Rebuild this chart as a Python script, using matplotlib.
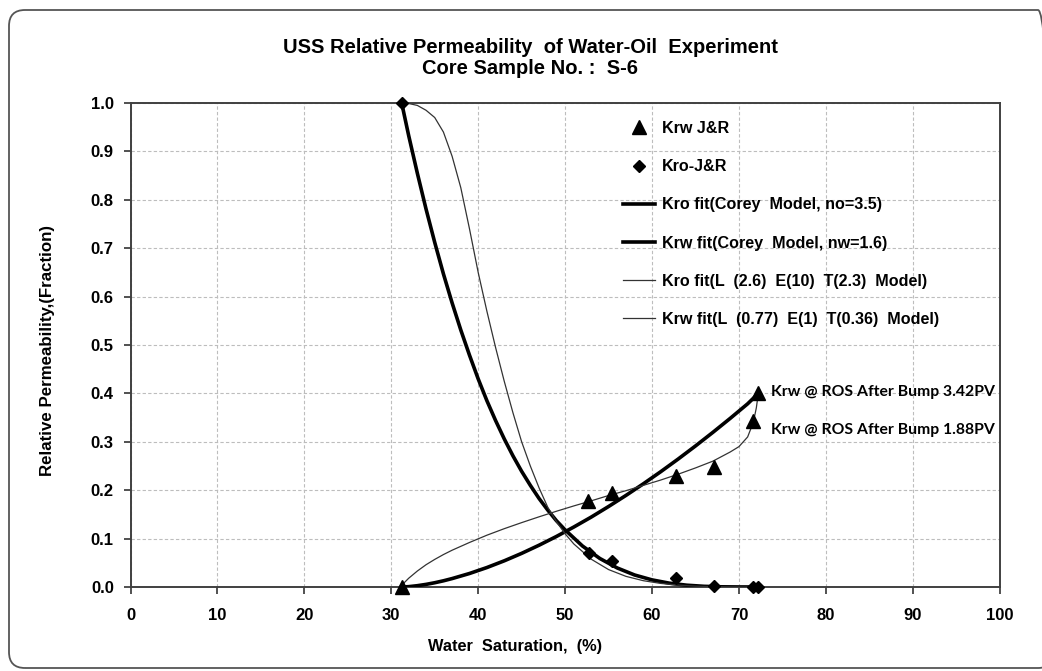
import matplotlib
matplotlib.use("Agg")
import matplotlib.pyplot as plt
from matplotlib.patches import FancyBboxPatch

# ---- data ----
krw_sw = [31.2, 52.6, 55.4, 62.8, 67.1, 71.65, 72.23]
krw_val = [0.0, 0.178, 0.194, 0.229, 0.247, 0.342, 0.401]

kro_sw = [31.2, 52.7, 55.4, 62.8, 67.1, 71.65, 72.23]
kro_val = [1.0, 0.071, 0.054, 0.018, 0.003, 0.0, 0.0]

kro_corey_sw = [31.2, 32, 33, 34, 35, 36, 37, 38, 39, 40, 41, 42, 43, 44, 45, 46, 47, 48,
                49, 50, 52, 54, 56, 58, 60, 62, 64, 66, 68, 70, 72.23]
kro_corey_val = [1.0, 0.933, 0.855, 0.781, 0.712, 0.647, 0.587, 0.531, 0.479, 0.430, 0.385,
                 0.344, 0.306, 0.271, 0.239, 0.210, 0.183, 0.159, 0.137, 0.118, 0.0847,
                 0.0589, 0.0393, 0.0248, 0.0147, 0.0079, 0.0037, 0.0014, 0.0004, 0.0001, 0.0]

krw_corey_sw = [31.2, 32, 33, 34, 35, 36, 37, 39, 41, 43, 45, 47, 49, 51, 53, 55, 57, 59,
                61, 63, 65, 67, 69, 71, 72.23]
krw_corey_val = [0.0, 0.0007, 0.0027, 0.0054, 0.0088, 0.0128, 0.0174, 0.0279, 0.0402, 0.0541,
                 0.0695, 0.0863, 0.1044, 0.1239, 0.1444, 0.1663, 0.1892, 0.2132, 0.2382,
                 0.2643, 0.2914, 0.3195, 0.3485, 0.3785, 0.40]

kro_let_sw = [31.2, 32, 33, 34, 35, 36, 37, 38, 39, 40, 41, 42, 43, 44, 45, 46, 47, 48, 49,
              50, 51, 53, 55, 57, 59, 61, 63, 65, 67, 69, 72.23]
kro_let_val = [1.0, 0.999, 0.995, 0.985, 0.97, 0.94, 0.89, 0.825, 0.74, 0.65, 0.57, 0.495,
               0.425, 0.36, 0.30, 0.25, 0.205, 0.165, 0.135, 0.11, 0.089, 0.0575, 0.036,
               0.022, 0.013, 0.0074, 0.0039, 0.0018, 0.0007, 0.0002, 0.0]

krw_let_sw = [31.2, 31.5, 32, 33, 34, 35, 36, 37, 39, 41, 43, 45, 47, 49, 51, 53, 55, 57,
              59, 61, 63, 65, 67, 69, 70, 71, 71.65, 72.0, 72.23]
krw_let_val = [0.0, 0.009, 0.018, 0.033, 0.046, 0.057, 0.067, 0.076, 0.092, 0.107, 0.1205,
               0.133, 0.145, 0.1565, 0.1675, 0.178, 0.189, 0.199, 0.210, 0.221, 0.233,
               0.246, 0.260, 0.279, 0.290, 0.310, 0.340, 0.370, 0.40]

labels = ["Krw J&R", "Kro-J&R", "Kro fit(Corey  Model, no=3.5)",
          "Krw fit(Corey  Model, nw=1.6)", "Kro fit(L  (2.6)  E(10)  T(2.3)  Model)",
          "Krw fit(L  (0.77)  E(1)  T(0.36)  Model)"]
x_ticks = [0, 10, 20, 30, 40, 50, 60, 70, 80, 90, 100]
y_ticks = [0.0, 0.1, 0.2, 0.3, 0.4, 0.5, 0.6, 0.7, 0.8, 0.9, 1.0]

plt.rcParams['font.family'] = ['Liberation Sans', 'DejaVu Sans']
plt.rcParams['font.weight'] = 'bold'

W, H = 1042, 671
fig = plt.figure(figsize=(W / 100, H / 100), dpi=100)
fig.patch.set_facecolor('white')

border = FancyBboxPatch((0.09, 0.03), 10.45, 6.58,
                        boxstyle="round,pad=0,rounding_size=0.16",
                        transform=fig.dpi_scale_trans, fill=False,
                        edgecolor='#555555', linewidth=1.3, zorder=0)
fig.patches.append(border)

ax = fig.add_axes([130.5 / W, 1 - 587 / H, (999.7 - 130.5) / W, (587 - 103) / H])

ax.plot(krw_corey_sw, krw_corey_val, color='black', lw=2.6, zorder=3, label=labels[3])
ax.plot(kro_corey_sw, kro_corey_val, color='black', lw=2.6, zorder=3, label=labels[2])
ax.plot(kro_let_sw, kro_let_val, color='#333333', lw=0.9, zorder=3, label=labels[4])
ax.plot(krw_let_sw, krw_let_val, color='#333333', lw=0.9, zorder=3, label=labels[5])
ax.plot(krw_sw, krw_val, linestyle='none', marker='^', color='black', markersize=9.5,
        zorder=4, clip_on=False, label=labels[0])
ax.plot(kro_sw, kro_val, linestyle='none', marker='D', color='black', markersize=6.5,
        zorder=4, clip_on=False, label=labels[1])

ax.set_xlim(0, 100)
ax.set_ylim(0, 1.0)
ax.set_xticks(x_ticks)
ax.set_yticks(y_ticks)
ax.set_xticklabels([str(v) for v in x_ticks])
ax.set_yticklabels([f"{v:.1f}" for v in y_ticks])
ax.tick_params(direction='out', length=5, width=1.2, color='#333333',
               labelsize=12, pad=7)
for lab in ax.get_xticklabels() + ax.get_yticklabels():
    lab.set_fontweight('bold')
ax.xaxis.set_tick_params(pad=10)
ax.grid(True, color='#bdbdbd', linestyle=(0, (3, 2)), linewidth=0.8)
ax.set_axisbelow(True)
for s in ax.spines.values():
    s.set_color('#404040')
    s.set_linewidth(1.4)

handles, labs = ax.get_legend_handles_labels()
order = [labs.index(l) for l in labels]
leg = ax.legend([handles[i] for i in order], [labs[i] for i in order],
                loc='upper left', bbox_to_anchor=(623 / W, 1 - 121 / H),
                bbox_transform=fig.transFigure, frameon=False, borderpad=0,
                borderaxespad=0, handlelength=2.0, handletextpad=0.42,
                labelspacing=1.44, prop={'family': 'Liberation Sans', 'weight': 'bold',
                                         'size': 11.6})

ax.text(771 / W, 1 - 392 / H, "Krw @ ROS After Bump 3.42PV", transform=fig.transFigure,
        fontsize=11.3, fontweight='bold', family='Lato', va='center', ha='left')
ax.text(771 / W, 1 - 430 / H, "Krw @ ROS After Bump 1.88PV", transform=fig.transFigure,
        fontsize=11.3, fontweight='bold', family='Lato', va='center', ha='left')

fig.text(530 / W, 1 - 58 / H,
         "USS Relative Permeability  of Water-Oil  Experiment\nCore Sample No. :  S-6",
         ha='center', va='center', fontsize=14.5, fontweight='bold', linespacing=1.15)
fig.text(515 / W, 1 - 647 / H, "Water  Saturation,  (%)", ha='center', va='center',
         fontsize=11.8, fontweight='bold')
fig.text(48 / W, 1 - 351 / H, "Relative Permeability,(Fraction)", ha='center',
         va='center', rotation=90, fontsize=12.2, fontweight='bold')

fig.savefig("out.png", dpi=100)
